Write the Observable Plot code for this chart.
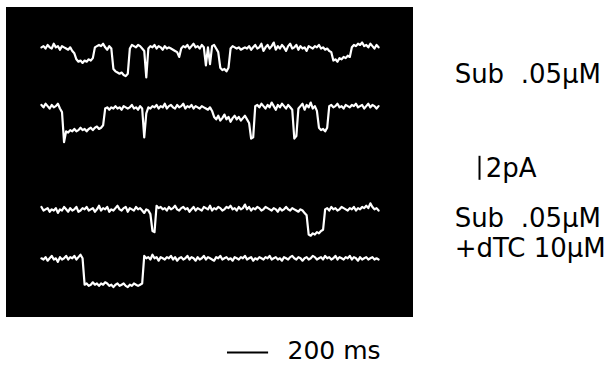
<!DOCTYPE html>
<html><head><meta charset="utf-8">
<script src="https://cdn.jsdelivr.net/npm/d3@7"></script>
<script src="https://cdn.jsdelivr.net/npm/@observablehq/plot@0.6"></script>
<style>body{margin:0;background:#fff}#chart svg{display:block}</style>
</head><body><div id="chart"></div>
<script>
// sample interval of every trace, ms
const sampleMs = 10;
const trace1 = [
 0.1, 0.2, 0.0, 0.3, 0.1, 0.0, 0.4, 0.1, 0.2, -0.1,
 0.2, 0.1, 0.0, -0.1, 0.1, -0.2, -0.4, -0.9, -1.1, -1.0,
 -1.2, -1.0, -1.1, -0.9, -1.0, -0.8, 0.1, 0.2, 0.3, 0.2,
 0.4, 0.1, -0.1, 0.2, 0.0, -1.7, -1.9, -2.0, -2.1, -2.0,
 -2.2, -2.3, -2.1, 0.0, 0.3, 0.2, 0.1, 0.3, 0.2, 0.0,
 -0.2, -2.4, 0.0, 0.2, 0.1, 0.3, 0.0, 0.2, 0.1, -0.1,
 0.2, 0.0, 0.1, 0.0, -0.1, -0.2, -0.3, -0.7, 0.0, 0.2,
 0.1, 0.3, 0.0, 0.2, 0.4, 0.1, 0.2, 0.0, 0.3, 0.1,
 -1.4, 0.1, -1.3, 0.2, 0.3, 0.0, -0.3, -1.6, -1.8, -1.7,
 -1.9, -1.6, 0.0, 0.2, 0.1, 0.0, 0.1, -0.1, 0.0, 0.1,
 0.0, 0.2, -0.1, 0.1, 0.3, 0.0, 0.1, 0.4, -0.2, 0.1,
 0.3, 0.0, 0.2, 0.5, -0.1, 0.2, 0.0, 0.3, 0.1, -0.2,
 0.2, 0.4, 0.0, 0.1, 0.3, -0.1, 0.2, 0.0, 0.1, -0.2,
 0.2, 0.1, 0.0, 0.2, 0.1, 0.3, 0.0, 0.1, -0.1, 0.0,
 -0.2, -0.3, -1.0, -0.9, -1.1, -0.8, -0.9, -0.7, -0.8, -0.6,
 -0.7, 0.1, 0.3, 0.2, 0.4, 0.3, 0.5, 0.2, 0.3, 0.1,
 0.4, 0.2, 0.0, 0.3, 0.1
];
const trace2 = [
 0.3, 0.1, 0.4, 0.2, 0.0, 0.3, 0.1, 0.2, 0.4, 0.0, -0.3,
 -2.8,
 -1.9, -2.0, -1.8, -1.9, -1.7, -1.9, -1.8, -1.6, -1.8, -1.7, -1.9, -1.7, -1.6, -1.8, -1.6, -1.5, -1.7, -1.6, -1.4,
 0.0, 0.1, -0.1, 0.1, 0.0, 0.2, 0.0, 0.1, -0.1, 0.2, 0.1, 0.0, 0.1, 0.3, 0.0, 0.1, -0.1, 0.2, 0.0,
 -2.4,
 -0.4, 0.1, 0.0, 0.2, 0.1, 0.3, 0.0, 0.2, 0.1, 0.4, 0.0, 0.2, 0.3, 0.1, 0.0, 0.3, 0.1, 0.2, 0.4, 0.0, 0.2, 0.1, 0.3, 0.0, 0.2, 0.1, 0.0, 0.2, 0.1, 0.0, -0.1, 0.1, -0.2,
 -0.7, -0.9, -0.6, -1.0, -0.8, -0.5, -0.9, -0.7, -1.1, -0.8, -0.6, -0.9, -0.7, -1.0, -0.8, -0.6, -0.9, -1.2,
 -2.5, -2.4,
 0.2, 0.3, 0.1, 0.4, 0.2, 0.0, 0.3, 0.1, 0.5, 0.2, -0.1, 0.3, 0.1, 0.4, 0.2, 0.0, 0.3, 0.1, -0.1,
 -2.5, -2.3,
 0.0, 0.2, 0.4, -0.1, 0.3, 0.1, 0.5, 0.0, 0.2, -0.2,
 -1.6, -1.8, -1.7, -1.9, -1.6,
 0.2, 0.3, 0.1, 0.2, 0.4, 0.1, 0.2, 0.0, 0.3, 0.2, 0.1, 0.3, 0.2, 0.4, 0.1, 0.2, 0.3, 0.0, 0.2, 0.4, 0.1, 0.3, 0.2, 0.0, 0.2
];
const trace3 = [
 0.3, 0.0, 0.1, 0.2, -0.1, 0.1, 0.0, 0.2, -0.2, 0.1,
 0.0, 0.3, 0.1, -0.1, 0.2, 0.0, 0.1, 0.3, -0.1, 0.0,
 0.2, 0.1, 0.3, 0.0, 0.1, 0.2, -0.1, 0.1, 0.4, 0.0,
 0.2, 0.1, 0.3, -0.1, 0.1, 0.0, 0.2, 0.4, 0.1, 0.0,
 0.2, 0.3, -0.1, 0.2, 0.1, 0.0, 0.3, 0.1, 0.2, 0.0,
 -0.2, 0.1, 0.0, -0.3,
 -1.7, -1.8,
 0.4, 0.2, 0.3, 0.1, 0.2, 0.0, 0.3, 0.1, 0.2, 0.4,
 0.1, 0.0, 0.2, 0.3, 0.1, 0.2, -0.1, 0.1, 0.3, 0.0,
 0.2, 0.1, 0.0, 0.3, 0.2, 0.1, 0.4, 0.0, 0.2, 0.1,
 0.3, 0.2, 0.0, 0.1, 0.3, 0.2, 0.4, 0.1, 0.2, 0.0,
 0.3, 0.1, 0.2, 0.5, 0.1, 0.3, 0.0, 0.2, 0.1, 0.3,
 0.2, 0.0, 0.1, 0.3, 0.2, 0.1, 0.0, 0.2, 0.1, -0.1,
 0.2, 0.0, 0.1, 0.3, 0.1, 0.0, 0.2, 0.1, 0.0, -0.1,
 0.1, 0.0, -0.2, -0.4,
 -2.0, -2.1, -1.9, -2.0, -1.8, -1.9, -1.7, -1.6,
 0.1, 0.2, 0.0, 0.3, 0.1, 0.2, 0.0, 0.1, 0.3, 0.2,
 0.1, 0.0, 0.2, 0.1, 0.3, 0.0, 0.2, 0.1, 0.3, 0.2,
 0.4, 0.2, 0.6, 0.3, 0.1, 0.2, 0.0
];
const trace4 = [
 0.1, 0.0, 0.2, -0.1, 0.1, 0.3, 0.0, 0.1, -0.2, 0.2, 0.0, 0.1, 0.3, 0.0, 0.2, 0.1, 0.3, 0.0, 0.2, 0.4, 0.1,
 -2.1, -2.0, -2.2, -2.1, -1.9, -2.1, -2.0, -2.2, -2.0, -2.1,
 -1.9, -2.0, -2.2, -2.1, -2.3, -2.1, -2.0, -2.2, -2.1, -2.0,
 -2.2, -2.3, -2.1, -2.2, -2.0, -2.1, -2.2, -2.1, -2.0,
 0.3, 0.1, 0.2, 0.0, 0.4, 0.1, 0.2, -0.1, 0.2, 0.1,
 0.0, 0.2, 0.1, 0.3, 0.0, 0.2, -0.1, 0.1, 0.2, 0.0,
 0.1, 0.3, 0.0, 0.2, 0.1, -0.1, 0.2, 0.0, 0.1, 0.3,
 0.0, 0.2, 0.1, 0.0, -0.1, 0.2, 0.1, 0.3, 0.0, 0.1,
 0.2, 0.0, 0.1, -0.1, 0.2, 0.1, 0.0, 0.2, 0.1, 0.3,
 0.0, 0.1, 0.2, -0.1, 0.1, 0.0, 0.2, 0.1, 0.0, 0.2,
 0.1, 0.3, 0.0, 0.1, 0.2, 0.0, 0.1, -0.1, 0.2, 0.1,
 0.0, 0.2, 0.3, 0.1, 0.0, 0.2, 0.1, -0.1, 0.1, 0.2,
 0.0, 0.1, 0.3, 0.2, 0.0, 0.1, 0.2, 0.0, 0.3, 0.1,
 0.2, 0.0, 0.1, 0.3, 0.0, 0.2, 0.1, 0.0, 0.2, 0.1,
 0.3, 0.0, 0.2, 0.1, -0.1, 0.2, 0.0, 0.1, 0.2, 0.0, 0.1, 0.2, 0.0, 0.1, 0.0
];
const traces = [trace1, trace2, trace3, trace4];

// condition labels and scale-bar labels
const conditionLabels = ["Sub\u00a0\u00a0.05\u03bcM", "Sub\u00a0\u00a0.05\u03bcM", "+dTC 10\u03bcM"];
const currentBar = {pA: 2, label: "2pA"};
const timeBar = {ms: 200, label: "200 ms"};

// ---- layout (not data) ----
const W = 612, H = 366;
const baseLevel = [22.33, 17.33, 8.83, 4.75];     // vertical offset (pA) of each sweep in the stack
const labelX = 2010, labelY = [19.42, 7.5, 5.0];
const cBarX = 2131, cBarY = 11.35, cLabelX = 2161, cLabelY = 11.6;
const tBarX = 905, tBarY = -3.0, tLabelX = 1197, tLabelY = -3.55;

const rows = traces.flatMap((tr, k) => tr.map((v, i) => ({t: i * sampleMs, y: baseLevel[k] + v, sweep: k})));
const labelRows = conditionLabels.map((s, i) => ({text: s, x: labelX, y: labelY[i]}));

const font = "DejaVu Sans";
const chart = Plot.plot({
  width: W, height: H,
  marginLeft: 6, marginRight: 200, marginTop: 7, marginBottom: 50,
  style: {background: "#fff", fontFamily: font},
  x: {domain: [-170, 1805], axis: null},
  y: {domain: [0, 25.75], axis: null},
  marks: [
    Plot.frame({fill: "black", stroke: "black"}),
    Plot.line(rows, {x: "t", y: "y", z: "sweep", stroke: "white", strokeWidth: 2.2, curve: "linear"}),
    Plot.text(labelRows, {x: "x", y: "y", text: "text", textAnchor: "start", lineAnchor: "bottom", fontSize: 26, fill: "black"}),
    Plot.ruleX([cBarX], {y1: cBarY, y2: cBarY + currentBar.pA, stroke: "black", strokeWidth: 2}),
    Plot.text([currentBar.label], {x: cLabelX, y: cLabelY, text: d => d, textAnchor: "start", lineAnchor: "bottom", fontSize: 26, fill: "black"}),
    Plot.ruleY([tBarY], {x1: tBarX, x2: tBarX + timeBar.ms, stroke: "black", strokeWidth: 2}),
    Plot.text([timeBar.label], {x: tLabelX, y: tLabelY, text: d => d, textAnchor: "start", lineAnchor: "bottom", fontSize: 25, fill: "black"})
  ]
});
document.getElementById("chart").append(chart);
</script>
</body></html>
